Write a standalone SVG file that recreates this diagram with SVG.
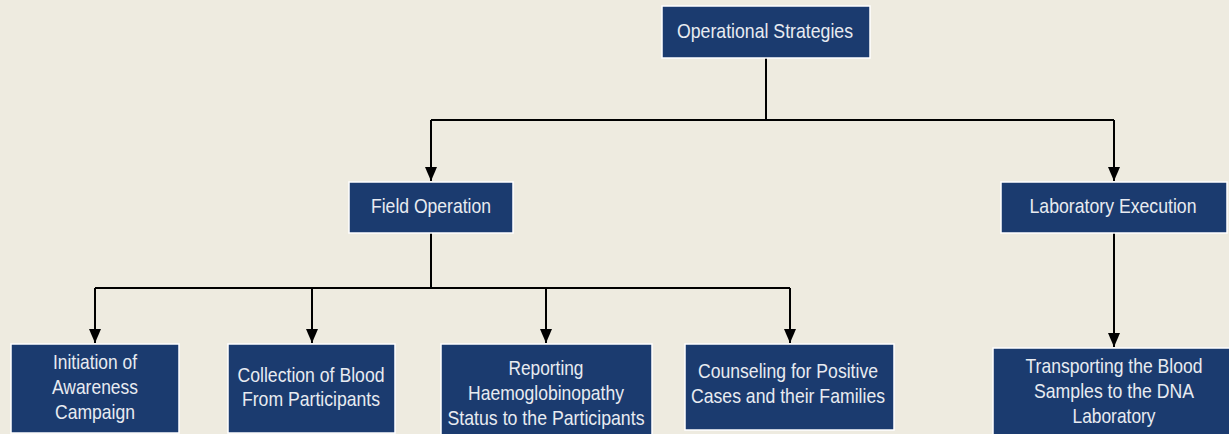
<svg xmlns="http://www.w3.org/2000/svg" width="1229" height="434" viewBox="0 0 1229 434">
<defs>
<marker id="arr" viewBox="0 0 14 12" refX="14" refY="6" markerWidth="14" markerHeight="12" markerUnits="userSpaceOnUse" orient="auto">
<path d="M0,0 L14,6 L0,12 Z" fill="#000"/>
</marker>
<style>
.box{fill:#1b3b6f;stroke:#ffffff;stroke-width:1.5}
.t{font-family:"Liberation Sans",Arial,sans-serif;font-size:21px;fill:#e8ebf1;text-anchor:middle}
.c{fill:none;stroke:#000;stroke-width:2}
</style>
</defs>
<rect width="1229" height="434" fill="#eeebe0"/>
<g id="connectors">
<path class="c" d="M766,58 V120"/>
<path class="c" d="M431,120 H1114"/>
<line class="c" x1="431" y1="120" x2="431" y2="181" marker-end="url(#arr)"/>
<line class="c" x1="1114" y1="120" x2="1114" y2="181" marker-end="url(#arr)"/>
<path class="c" d="M431,233 V288"/>
<path class="c" d="M95,288 H790"/>
<line class="c" x1="95" y1="288" x2="95" y2="343" marker-end="url(#arr)"/>
<line class="c" x1="312" y1="288" x2="312" y2="343" marker-end="url(#arr)"/>
<line class="c" x1="546" y1="288" x2="546" y2="343" marker-end="url(#arr)"/>
<line class="c" x1="790" y1="288" x2="790" y2="343" marker-end="url(#arr)"/>
<line class="c" x1="1114" y1="233" x2="1114" y2="347" marker-end="url(#arr)"/>
</g>
<g id="operational-strategies">
<rect class="box" x="662" y="6" width="208" height="52"/>
<text class="t" x="765" y="38" textLength="176" lengthAdjust="spacingAndGlyphs">Operational Strategies</text>
</g>
<g id="field-operation">
<rect class="box" x="349" y="182" width="164" height="51"/>
<text class="t" x="431" y="213" textLength="120" lengthAdjust="spacingAndGlyphs">Field Operation</text>
</g>
<g id="laboratory-execution">
<rect class="box" x="1001" y="182" width="226" height="51"/>
<text class="t" x="1113" y="213" textLength="167" lengthAdjust="spacingAndGlyphs">Laboratory Execution</text>
</g>
<g id="initiation">
<rect class="box" x="11" y="344" width="168" height="89"/>
<text class="t" x="95" y="369" textLength="84" lengthAdjust="spacingAndGlyphs">Initiation of</text>
<text class="t" x="95" y="394" textLength="86" lengthAdjust="spacingAndGlyphs">Awareness</text>
<text class="t" x="95" y="419" textLength="80" lengthAdjust="spacingAndGlyphs">Campaign</text>
</g>
<g id="collection">
<rect class="box" x="228" y="344" width="167" height="89"/>
<text class="t" x="311" y="382" textLength="147" lengthAdjust="spacingAndGlyphs">Collection of Blood</text>
<text class="t" x="311" y="406" textLength="138" lengthAdjust="spacingAndGlyphs">From Participants</text>
</g>
<g id="reporting">
<rect class="box" x="441" y="344" width="211" height="92"/>
<text class="t" x="546" y="375" textLength="75" lengthAdjust="spacingAndGlyphs">Reporting</text>
<text class="t" x="546" y="400" textLength="156" lengthAdjust="spacingAndGlyphs">Haemoglobinopathy</text>
<text class="t" x="546" y="425" textLength="197" lengthAdjust="spacingAndGlyphs">Status to the Participants</text>
</g>
<g id="counseling">
<rect class="box" x="685" y="344" width="209" height="86"/>
<text class="t" x="788" y="378" textLength="180" lengthAdjust="spacingAndGlyphs">Counseling for Positive</text>
<text class="t" x="788" y="403" textLength="194" lengthAdjust="spacingAndGlyphs">Cases and their Families</text>
</g>
<g id="transporting">
<rect class="box" x="993" y="348" width="238" height="90"/>
<text class="t" x="1114" y="373" textLength="177" lengthAdjust="spacingAndGlyphs">Transporting the Blood</text>
<text class="t" x="1114" y="398" textLength="160" lengthAdjust="spacingAndGlyphs">Samples to the DNA</text>
<text class="t" x="1114" y="423" textLength="83" lengthAdjust="spacingAndGlyphs">Laboratory</text>
</g>
</svg>
